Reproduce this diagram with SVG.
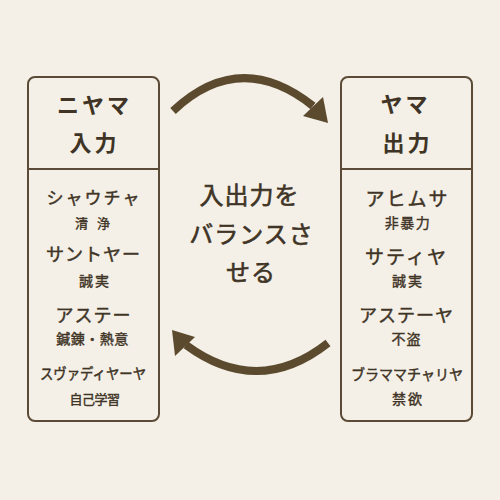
<svg xmlns="http://www.w3.org/2000/svg" width="500" height="500" viewBox="0 0 500 500">
<style>
text{font-family:"Noto Sans CJK JP","Noto Sans CJK SC",sans-serif;fill:#3f3426;text-anchor:middle}
.box{fill:#f4f0e7;stroke:#5b4b36;stroke-width:2}
.div{stroke:#5b4b36;stroke-width:2}
.h{font-size:22px;font-weight:700;letter-spacing:3px}
.t{font-weight:400;stroke:#3f3426;stroke-width:0.45px}
.s{font-weight:400;stroke:#3f3426;stroke-width:0.4px}
.c{font-size:24px;font-weight:400;letter-spacing:1px;stroke:#3f3426;stroke-width:0.6px}
.arr{fill:none;stroke:#5c4a2e;stroke-width:8}
.head{fill:#5c4a2e}
</style>
<rect width="500" height="500" fill="#f4f0e7"/>
<g id="left-box">
<rect class="box" x="28" y="77" width="131" height="344" rx="7"/>
<line class="div" x1="28" y1="169" x2="159" y2="169"/>
<text class="h" x="94.5" y="112.5">ニヤマ</text>
<text class="h" x="94.5" y="150.5">入力</text>
<text class="t" x="94" y="204" font-size="17" letter-spacing="2">シャウチャ</text>
<text class="s" x="94" y="227.5" font-size="13" letter-spacing="3">清 浄</text>
<text class="t" x="93.5" y="261" font-size="18" letter-spacing="1">サントヤー</text>
<text class="s" x="95" y="286" font-size="14" letter-spacing="2">誠実</text>
<text class="t" x="93.5" y="322" font-size="18" letter-spacing="1">アステー</text>
<text class="s" x="92.5" y="344" font-size="14" letter-spacing="0.5">鍼錬・熱意</text>
<text class="t" x="93" y="379" font-size="15" textLength="106" lengthAdjust="spacingAndGlyphs">スヴァディヤーヤ</text>
<text class="s" x="94.5" y="403.5" font-size="13" letter-spacing="-0.5">自己学習</text>
</g>
<g id="right-box">
<rect class="box" x="341" y="77" width="131" height="344" rx="7"/>
<line class="div" x1="341" y1="169" x2="472" y2="169"/>
<text class="h" x="405.5" y="112">ヤマ</text>
<text class="h" x="407.5" y="150.5">出力</text>
<text class="t" x="407.5" y="205.5" font-size="19" letter-spacing="2">アヒムサ</text>
<text class="s" x="408" y="227.5" font-size="14" letter-spacing="1.5">非暴力</text>
<text class="t" x="406.5" y="263.5" font-size="19" letter-spacing="2">サティヤ</text>
<text class="s" x="408" y="286" font-size="14" letter-spacing="2">誠実</text>
<text class="t" x="406.5" y="322" font-size="18" letter-spacing="1">アステーヤ</text>
<text class="s" x="406.5" y="344" font-size="14" letter-spacing="1">不盗</text>
<text class="t" x="407" y="380" font-size="15" textLength="112" lengthAdjust="spacingAndGlyphs">ブラママチャリヤ</text>
<text class="s" x="408" y="403.5" font-size="14" letter-spacing="2">禁欲</text>
</g>
<g id="center-label">
<text class="c" x="249.5" y="204">入出力を</text>
<text class="c" x="251.5" y="243">バランスさ</text>
<text class="c" x="251" y="280.5">せる</text>
</g>
<g id="connectors">
<path class="arr" d="M173,111 Q240,48 313,106"/>
<polygon class="head" points="303,116 323,97 328,123"/>
<path class="arr" d="M328,343 Q258,398 186,345"/>
<polygon class="head" points="175,356 195,337 172,330"/>
</g>
</svg>
